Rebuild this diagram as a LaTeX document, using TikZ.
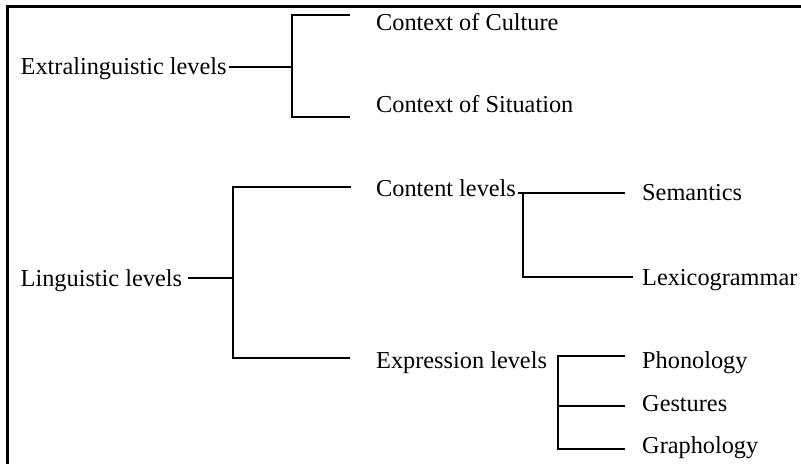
\documentclass[tikz,border=0pt]{standalone}
\usepackage{fontspec}
\setmainfont{Liberation Serif}
\begin{document}
\begin{tikzpicture}[x=1pt,y=-1pt,
  lbl/.style={anchor=base west, inner sep=0pt, font=\fontsize{24.3}{28}\selectfont},
  conn/.style={line width=1.5pt, line cap=butt, line join=miter},
  frame/.style={line width=2.6pt}]
\useasboundingbox (0,0) rectangle (801,464);
% frame
\draw[frame] (7.5,464) -- (7.5,6.5) -- (801,6.5);
% labels
\node[lbl] (ext)  at (20.5,74)  {Extralinguistic levels};
\node[lbl] (cul)  at (376,30)   {Context of Culture};
\node[lbl] (sit)  at (376,112)  {Context of Situation};
\node[lbl] (ling) at (20.5,286) {Linguistic levels};
\node[lbl] (cont) at (376,196)  {Content levels};
\node[lbl] (expr) at (376,368)  {Expression levels};
\node[lbl] (sem)  at (642,200)  {Semantics};
\node[lbl] (lex)  at (642,285)  {Lexicogrammar};
\node[lbl] (pho)  at (642,368)  {Phonology};
\node[lbl] (ges)  at (642,411)  {Gestures};
\node[lbl] (gra)  at (642,453)  {Graphology};
% bracket coordinates
\coordinate (e1) at (292,67);
\coordinate (e1t) at (292,15);  \coordinate (e1te) at (350,15);
\coordinate (e1b) at (292,117); \coordinate (e1be) at (350,117);
\coordinate (l1) at (233,278);
\coordinate (l1t) at (233,187); \coordinate (l1te) at (351,187);
\coordinate (l1b) at (233,358); \coordinate (l1be) at (350,358);
\coordinate (c1t) at (523,193); \coordinate (c1te) at (625,193);
\coordinate (c1b) at (523,277); \coordinate (c1be) at (633,277);
\coordinate (x1t) at (558,356); \coordinate (x1te) at (625,356);
\coordinate (x1m) at (558,406); \coordinate (x1me) at (625,406);
\coordinate (x1b) at (558,449); \coordinate (x1be) at (625,449);
% connectors
\draw[conn] ([xshift=2pt]ext.east |- e1) -- (e1);
\draw[conn] (e1te) -- (e1t) -- (e1b) -- (e1be);
\draw[conn] ([xshift=6pt]ling.east |- l1) -- (l1);
\draw[conn] (l1te) -- (l1t) -- (l1b) -- (l1be);
\draw[conn] ([xshift=2pt]cont.east |- c1t) -- (c1te);
\draw[conn] (c1t) -- (c1b) -- (c1be);
\draw[conn] (x1te) -- (x1t) -- (x1b) -- (x1be);
\draw[conn] (x1m) -- (x1me);
\end{tikzpicture}
\end{document}
